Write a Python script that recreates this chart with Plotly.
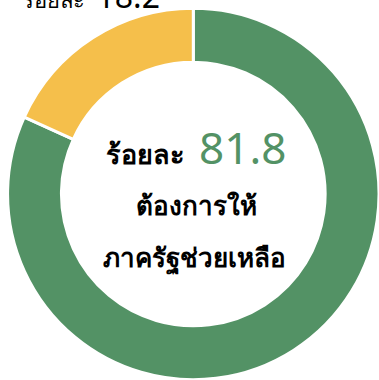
import plotly.graph_objects as go

# Share of respondents
labels = ["ต้องการให้ภาครัฐช่วยเหลือ", "ไม่ต้องการ"]
values = [81.8, 18.2]
colors = ["#539265", "#F5BF4B"]

W, H = 379, 380

fig = go.Figure(
    go.Pie(
        labels=labels,
        values=values,
        hole=0.71,
        sort=False,
        direction="clockwise",
        rotation=0,
        marker=dict(colors=colors, line=dict(color="white", width=3)),
        textinfo="none",
        hoverinfo="label+percent",
        domain=dict(x=[0.02, 1.0], y=[0.0, 0.979]),
        showlegend=False,
    )
)

font = "Noto Sans, sans-serif"

# Centre label
fig.add_annotation(
    x=196 / W, y=1 - 147 / H, xref="paper", yref="paper",
    text=(f"<b>ร้อยละ</b>  <span style='font-size:44px;color:{colors[0]}'>{values[0]}</span>"),
    showarrow=False, font=dict(family=font, size=27, color="black"),
    xanchor="center", yanchor="middle",
)
fig.add_annotation(
    x=196 / W, y=1 - 205 / H, xref="paper", yref="paper",
    text="<b>ต้องการให้</b>",
    showarrow=False, font=dict(family=font, size=26, color="black"),
    xanchor="center", yanchor="middle",
)
fig.add_annotation(
    x=194 / W, y=1 - 257 / H, xref="paper", yref="paper",
    text="<b>ภาครัฐช่วยเหลือ</b>",
    showarrow=False, font=dict(family=font, size=26, color="black"),
    xanchor="center", yanchor="middle",
)

# Label for the smaller slice, sitting above the top edge
fig.add_annotation(
    x=20 / W, y=1 + 4 / H, xref="paper", yref="paper",
    text=f"ร้อยละ  <span style='font-size:32px'>{values[1]}</span>",
    showarrow=False, font=dict(family=font, size=22, color="black"),
    xanchor="left", yanchor="middle",
)

fig.update_layout(
    width=W, height=H,
    margin=dict(l=0, r=0, t=0, b=0),
    paper_bgcolor="white", plot_bgcolor="white",
)

fig.write_html("out.html")
